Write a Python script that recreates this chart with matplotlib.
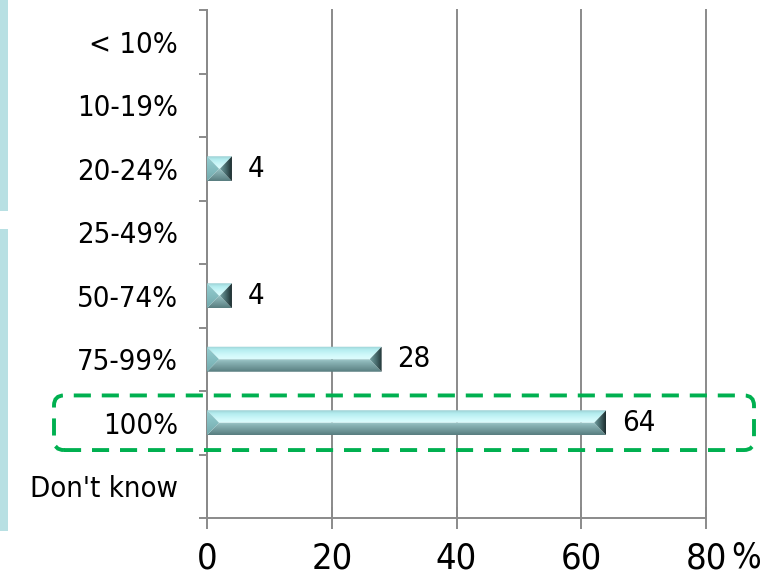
import numpy as np
import matplotlib
matplotlib.use("Agg")
import matplotlib.pyplot as plt
from matplotlib.patches import Polygon, Rectangle, FancyBboxPatch
from matplotlib.colors import LinearSegmentedColormap

# ---- data ----
categories = ["< 10%", "10-19%", "20-24%", "25-49%", "50-74%", "75-99%", "100%", "Don't know"]
values = [0, 0, 4, 0, 4, 28, 64, 0]
x_ticks = [0, 20, 40, 60, 80]
x_tick_labels = ["0", "20", "40", "60", "80"]
highlight_category = "100%"

FONT = dict(family="DejaVu Sans", stretch="condensed")
W, H, DPI = 766, 577, 100

fig = plt.figure(figsize=(W / DPI, H / DPI), dpi=DPI)
ax = fig.add_axes([207 / W, 1 - 518 / H, (706 - 207) / W, (518 - 10) / H])

n = len(categories)
ax.set_xlim(0, 80)
ax.set_ylim(n - 0.5, -0.5)

# axes styling
grey = "#8a8a8a"
for s in ["top", "right"]:
    ax.spines[s].set_visible(False)
for s in ["left", "bottom"]:
    ax.spines[s].set_color(grey)
    ax.spines[s].set_linewidth(1.4)
ax.set_axisbelow(True)
ax.xaxis.grid(True, color=grey, linewidth=1.4)

ax.set_xticks(x_ticks)
ax.set_xticklabels(x_tick_labels, fontsize=26, **FONT)
ax.tick_params(axis="x", direction="inout", length=16, width=1.4, color=grey, pad=9)
for gl in ax.xaxis.get_gridlines():
    gl.set_clip_on(False)

ax.set_yticks(np.arange(n))
ax.set_yticklabels(categories, fontsize=21, **FONT)
ax.set_yticks(np.arange(n + 1) - 0.5, minor=True)
ax.tick_params(axis="y", which="major", length=0, pad=21)
ax.tick_params(axis="y", which="minor", direction="out", length=5.5, width=1.4, color=grey)

# percent unit after the last x tick label
ax.annotate("%", xy=(1, 0), xycoords="axes fraction", xytext=(18, -16),
            textcoords="offset points", ha="left", va="top", fontsize=25, **FONT)

# ---- beveled bars ----
fig.canvas.draw()
bbox = ax.get_window_extent()
sx = bbox.width / 80.0           # pixels per x unit
sy = bbox.height / float(n)      # pixels per category

def grad_cmap(colors):
    return LinearSegmentedColormap.from_list("g", colors)

def gradient_fill(poly_pts, extent, colors, vertical=True, z=3):
    poly = Polygon(poly_pts, closed=True, facecolor="none", edgecolor="none",
                   transform=ax.transData)
    ax.add_patch(poly)
    g = np.linspace(0, 1, 64)
    arr = g[:, None] if vertical else g[None, :]
    im = ax.imshow(arr, cmap=grad_cmap(colors), extent=extent, origin="upper",
                   aspect="auto", interpolation="bilinear", zorder=z)
    im.set_clip_path(poly)

half_h = 12.5 / sy
for i, v in enumerate(values):
    if v <= 0:
        continue
    x0, x1 = 0.0, float(v)
    yt, yb = i - half_h, i + half_h
    bx = min(12.0 / sx, v / 2.0)
    ext = (x0, x1, yb, yt)
    # top facet: light cyan brightening toward the middle
    gradient_fill([(x0, yt), (x1, yt), (x1 - bx, i), (x0 + bx, i)],
                  (x0, x1, i, yt), ["#9bd0d3", "#b3ebee", "#c3f4f6", "#d3fafb", "#dcfcfd"])
    # bottom facet: grey-teal darkening toward the edge
    gradient_fill([(x0, yb), (x1, yb), (x1 - bx, i), (x0 + bx, i)],
                  (x0, x1, yb, i), ["#a0c9cb", "#88b2b4", "#79a1a3", "#688f91", "#587d7f"])
    # left facet
    gradient_fill([(x0, yt), (x0 + bx, i), (x0, yb)],
                  ext, ["#96cdd0", "#84bdc0", "#73a9ac"])
    # right facet: dark end cap
    gradient_fill([(x1, yt), (x1 - bx, i), (x1, yb)],
                  (x1 - bx, x1, yb, yt), ["#719fa1", "#46696b", "#1c2c2e"], vertical=False)
    ax.annotate(f"{v}", xy=(x1, i), xytext=(11.5, 0), textcoords="offset points",
                ha="left", va="center", fontsize=21, **FONT)

ax.set_xlim(0, 80)
ax.set_ylim(n - 0.5, -0.5)

# ---- dashed highlight frame around one row ----
k = categories.index(highlight_category)
_, ytop_px = ax.transData.transform((0, k - 0.43))
_, ybot_px = ax.transData.transform((0, k + 0.43))
lo, hi = min(ytop_px, ybot_px), max(ytop_px, ybot_px)
frame = FancyBboxPatch((54, lo), 754 - 54, hi - lo,
                       boxstyle="round,pad=0,rounding_size=10",
                       transform=None, facecolor="none", edgecolor="#00b050",
                       linewidth=2.8, linestyle=(0, (4.4, 2.8)), zorder=6,
                       clip_on=False)
fig.add_artist(frame)

# ---- side bands ----
band = "#b8e0e3"
fig.add_artist(Rectangle((0, 1 - 211 / H), 8 / W, 211 / H, transform=fig.transFigure,
                         facecolor=band, edgecolor="none"))
fig.add_artist(Rectangle((0, 1 - 531 / H), 8 / W, (531 - 229) / H, transform=fig.transFigure,
                         facecolor=band, edgecolor="none"))

fig.savefig("out.png", dpi=DPI)
